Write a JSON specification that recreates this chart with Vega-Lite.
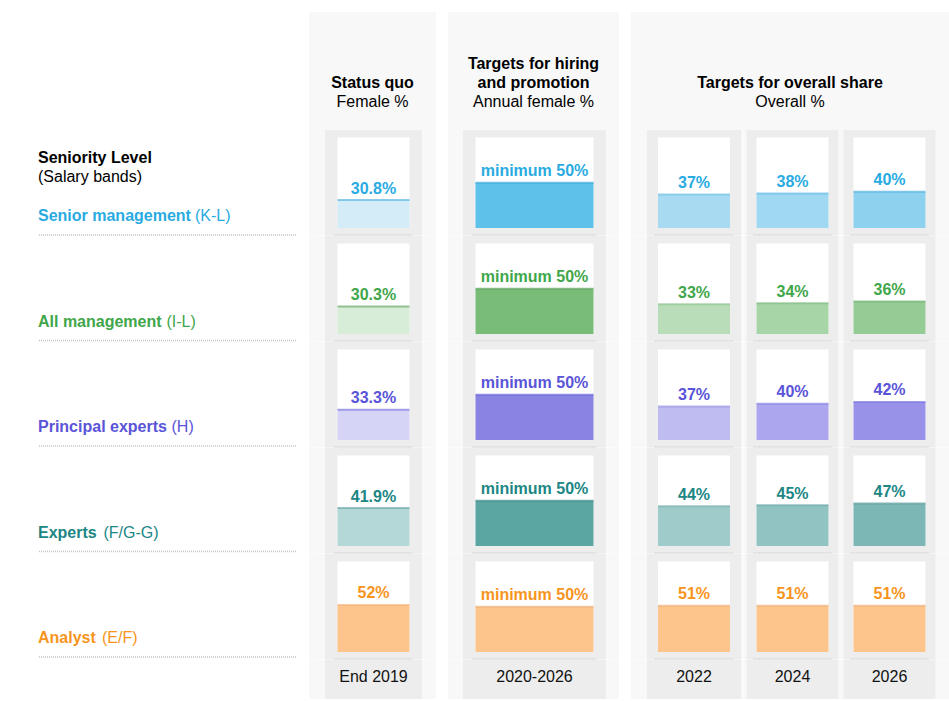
{
  "$schema": "https://vega.github.io/schema/vega-lite/v6.json",
  "padding": {"left": 37, "top": 12, "right": 0, "bottom": 0},
  "background": "#ffffff",
  "spacing": 12,
  "config": {
    "font": "Liberation Sans",
    "view": {"stroke": null, "fill": "#f8f8f8"},
    "title": {"fontSize": 16, "fontWeight": "bold", "color": "#000000", "subtitleFontSize": 16, "subtitleColor": "#000000", "subtitleFontWeight": "normal", "subtitlePadding": 3, "lineHeight": 19}
  },
  "datasets": {
    "headers": [
      {"panel": "Status quo", "kind": "title", "text": "Status quo"},
      {"panel": "Status quo", "kind": "subtitle", "text": "Female %"},
      {"panel": "Hiring", "kind": "title-top", "text": "Targets for hiring"},
      {"panel": "Hiring", "kind": "title", "text": "and promotion"},
      {"panel": "Hiring", "kind": "subtitle", "text": "Annual female %"},
      {"panel": "Overall", "kind": "title", "text": "Targets for overall share"},
      {"panel": "Overall", "kind": "subtitle", "text": "Overall %"}
    ],
    "levels": [
      {"level": "Senior management", "code": "(K-L)"},
      {"level": "All management", "code": "(I-L)"},
      {"level": "Principal experts", "code": "(H)"},
      {"level": "Experts", "code": "(F/G-G)"},
      {"level": "Analyst", "code": "(E/F)"}
    ],
    "cells": [
      {"level": "Senior management", "period": "End 2019", "value": 30.8, "label": "30.8%"},
      {"level": "Senior management", "period": "2020-2026", "value": 50, "label": "minimum 50%"},
      {"level": "Senior management", "period": "2022", "value": 37, "label": "37%"},
      {"level": "Senior management", "period": "2024", "value": 38, "label": "38%"},
      {"level": "Senior management", "period": "2026", "value": 40, "label": "40%"},
      {"level": "All management", "period": "End 2019", "value": 30.3, "label": "30.3%"},
      {"level": "All management", "period": "2020-2026", "value": 50, "label": "minimum 50%"},
      {"level": "All management", "period": "2022", "value": 33, "label": "33%"},
      {"level": "All management", "period": "2024", "value": 34, "label": "34%"},
      {"level": "All management", "period": "2026", "value": 36, "label": "36%"},
      {"level": "Principal experts", "period": "End 2019", "value": 33.3, "label": "33.3%"},
      {"level": "Principal experts", "period": "2020-2026", "value": 50, "label": "minimum 50%"},
      {"level": "Principal experts", "period": "2022", "value": 37, "label": "37%"},
      {"level": "Principal experts", "period": "2024", "value": 40, "label": "40%"},
      {"level": "Principal experts", "period": "2026", "value": 42, "label": "42%"},
      {"level": "Experts", "period": "End 2019", "value": 41.9, "label": "41.9%"},
      {"level": "Experts", "period": "2020-2026", "value": 50, "label": "minimum 50%"},
      {"level": "Experts", "period": "2022", "value": 44, "label": "44%"},
      {"level": "Experts", "period": "2024", "value": 45, "label": "45%"},
      {"level": "Experts", "period": "2026", "value": 47, "label": "47%"},
      {"level": "Analyst", "period": "End 2019", "value": 52, "label": "52%"},
      {"level": "Analyst", "period": "2020-2026", "value": 50, "label": "minimum 50%"},
      {"level": "Analyst", "period": "2022", "value": 51, "label": "51%"},
      {"level": "Analyst", "period": "2024", "value": 51, "label": "51%"},
      {"level": "Analyst", "period": "2026", "value": 51, "label": "51%"}
    ]
  },
  "resolve": {"scale": {"x": "independent", "y": "independent", "color": "independent"}},
  "hconcat": [
    {
      "data": {"name": "levels"},
      "title": {"text": "Seniority Level", "subtitle": "(Salary bands)", "anchor": "start", "frame": "group", "offset": -173},
      "width": 258, "height": 645.5,
      "view": {"fill": null, "stroke": null},
      "encoding": {
        "y": {"field": "level", "type": "nominal", "sort": ["Senior management", "All management", "Principal experts", "Experts", "Analyst"], "scale": {"range": [118, 645.5], "paddingInner": 0, "paddingOuter": 0}, "axis": null},
        "color": {"field": "level", "type": "nominal", "scale": {"domain": ["Senior management", "All management", "Principal experts", "Experts", "Analyst"], "range": ["#29abe2", "#3fa64a", "#5a54d8", "#208685", "#f7941d"]}, "legend": null}
      },
      "layer": [
        {"mark": {"type": "rule", "color": "#c4c4c4", "strokeDash": [1, 1], "strokeWidth": 1.5},
         "encoding": {"y": {"field": "level", "type": "nominal", "bandPosition": 0.995, "sort": ["Senior management", "All management", "Principal experts", "Experts", "Analyst"], "axis": null}, "color": {"value": "#c4c4c4"}}},
        {"mark": {"type": "text", "align": "left", "baseline": "alphabetic", "fontSize": 16, "fontWeight": "bold"},
         "encoding": {"x": {"value": 0}, "y": {"field": "level", "type": "nominal", "bandPosition": 0.8626, "sort": ["Senior management", "All management", "Principal experts", "Experts", "Analyst"], "axis": null}, "text": {"field": "level"}}},
        {"transform": [{"filter": "datum.level === 'Senior management'"}],
         "mark": {"type": "text", "align": "left", "baseline": "alphabetic", "dx": 157, "fontSize": 16},
         "encoding": {"x": {"value": 0}, "y": {"field": "level", "type": "nominal", "bandPosition": 0.8626, "sort": ["Senior management", "All management", "Principal experts", "Experts", "Analyst"], "axis": null}, "text": {"field": "code"}}},
        {"transform": [{"filter": "datum.level === 'All management'"}],
         "mark": {"type": "text", "align": "left", "baseline": "alphabetic", "dx": 128.5, "fontSize": 16},
         "encoding": {"x": {"value": 0}, "y": {"field": "level", "type": "nominal", "bandPosition": 0.8626, "sort": ["Senior management", "All management", "Principal experts", "Experts", "Analyst"], "axis": null}, "text": {"field": "code"}}},
        {"transform": [{"filter": "datum.level === 'Principal experts'"}],
         "mark": {"type": "text", "align": "left", "baseline": "alphabetic", "dx": 133.5, "fontSize": 16},
         "encoding": {"x": {"value": 0}, "y": {"field": "level", "type": "nominal", "bandPosition": 0.8626, "sort": ["Senior management", "All management", "Principal experts", "Experts", "Analyst"], "axis": null}, "text": {"field": "code"}}},
        {"transform": [{"filter": "datum.level === 'Experts'"}],
         "mark": {"type": "text", "align": "left", "baseline": "alphabetic", "dx": 65.5, "fontSize": 16},
         "encoding": {"x": {"value": 0}, "y": {"field": "level", "type": "nominal", "bandPosition": 0.8626, "sort": ["Senior management", "All management", "Principal experts", "Experts", "Analyst"], "axis": null}, "text": {"field": "code"}}},
        {"transform": [{"filter": "datum.level === 'Analyst'"}],
         "mark": {"type": "text", "align": "left", "baseline": "alphabetic", "dx": 64, "fontSize": 16},
         "encoding": {"x": {"value": 0}, "y": {"field": "level", "type": "nominal", "bandPosition": 0.8626, "sort": ["Senior management", "All management", "Principal experts", "Experts", "Analyst"], "axis": null}, "text": {"field": "code"}}}
      ]
    },
    {
      "spacing": 0,
      "resolve": {"scale": {"x": "independent", "y": "independent", "color": "independent"}},
      "vconcat": [
        {
          "data": {"name": "headers"},
          "transform": [{"filter": "datum.panel === 'Status quo'"}],
          "width": 127, "height": 118,
          "encoding": {
            "x": {"field": "panel", "type": "nominal", "axis": null},
            "y": {"field": "kind", "type": "nominal", "scale": {"type": "point", "domain": ["title-top", "title", "subtitle"], "range": [56.8, 94.6], "padding": 0}, "axis": null},
            "text": {"field": "text"}
          },
          "layer": [
            {"transform": [{"filter": "datum.kind !== 'subtitle'"}], "mark": {"type": "text", "fontSize": 16, "fontWeight": "bold", "baseline": "alphabetic", "color": "#000000"}},
            {"transform": [{"filter": "datum.kind === 'subtitle'"}], "mark": {"type": "text", "fontSize": 16, "baseline": "alphabetic", "color": "#000000"}}
          ]
        },
        {
          "data": {"name": "cells"},
          "transform": [{"filter": "datum.period === 'End 2019'"}],
          "facet": {"row": {"field": "level", "type": "nominal", "sort": ["Senior management", "All management", "Principal experts", "Experts", "Analyst"], "header": {"labels": false, "title": null}}},
          "spacing": 0,
          "spec": {
            "width": 127, "height": 105.5,
            "encoding": {
              "x": {"field": "period", "type": "nominal", "scale": {"range": [16, 113], "paddingInner": 0, "paddingOuter": 0}, "axis": null}
            },
            "layer": [
              {"mark": {"type": "bar", "color": "#ededed"},
               "encoding": {"y": {"datum": -8.3, "scale": {"domain": [-8.3, 108.3], "nice": false, "zero": false}, "axis": null}, "y2": {"datum": 108.3}}},
              {"mark": {"type": "bar", "color": "#ffffff", "width": 72},
               "encoding": {"y": {"datum": 100, "scale": {"domain": [-8.3, 108.3], "nice": false, "zero": false}, "axis": null}, "y2": {"datum": 0}}},
              {"mark": {"type": "tick", "thickness": 0, "size": 78.5, "filled": false, "color": "#c4c4c4", "strokeDash": [1, 1], "strokeWidth": 1.5},
               "encoding": {"y": {"datum": -7.7, "scale": {"domain": [-8.3, 108.3], "nice": false, "zero": false}, "axis": null}}},
              {"mark": {"type": "bar", "width": 72},
               "encoding": {"y": {"field": "value", "type": "quantitative", "scale": {"domain": [-8.3, 108.3], "nice": false, "zero": false}, "axis": null}, "y2": {"datum": 0},
                 "color": {"field": "level", "type": "nominal", "scale": {"domain": ["Senior management", "All management", "Principal experts", "Experts", "Analyst"], "range": ["#d3ecf8", "#d7edd7", "#d6d4f6", "#b4d7d7", "#fdc58b"]}, "legend": null}}},
              {"mark": {"type": "tick", "thickness": 2, "size": 72},
               "encoding": {"y": {"field": "value", "type": "quantitative", "scale": {"domain": [-8.3, 108.3], "nice": false, "zero": false}, "axis": null},
                 "color": {"field": "level", "type": "nominal", "scale": {"domain": ["Senior management", "All management", "Principal experts", "Experts", "Analyst"], "range": ["#5cb6e0", "#6cad6d", "#7f78e0", "#6eaaa9", "#f3b47c"]}, "legend": null}}},
              {"mark": {"type": "text", "align": "center", "baseline": "alphabetic", "dy": -6.5, "fontSize": 16, "fontWeight": "bold"},
               "encoding": {"y": {"field": "value", "type": "quantitative", "scale": {"domain": [-8.3, 108.3], "nice": false, "zero": false}, "axis": null}, "text": {"field": "label"},
                 "color": {"field": "level", "type": "nominal", "scale": {"domain": ["Senior management", "All management", "Principal experts", "Experts", "Analyst"], "range": ["#29abe2", "#3fa64a", "#5a54d8", "#208685", "#f7941d"]}, "legend": null}}}
            ],
            "resolve": {"scale": {"color": "independent"}}
          }
        },
        {
          "data": {"name": "cells"},
          "transform": [{"filter": "datum.period === 'End 2019'"}, {"aggregate": [{"op": "count", "as": "n"}], "groupby": ["period"]}],
          "width": 127, "height": 39,
          "encoding": {"x": {"field": "period", "type": "nominal", "scale": {"range": [16, 113], "paddingInner": 0, "paddingOuter": 0}, "axis": null}},
          "layer": [
            {"mark": {"type": "bar", "color": "#ededed"}},
            {"mark": {"type": "text", "fontSize": 16, "color": "#111111", "baseline": "middle", "dy": -3}, "encoding": {"text": {"field": "period"}}}
          ]
        }
      ]
    },
    {
      "spacing": 0,
      "resolve": {"scale": {"x": "independent", "y": "independent", "color": "independent"}},
      "vconcat": [
        {
          "data": {"name": "headers"},
          "transform": [{"filter": "datum.panel === 'Hiring'"}],
          "width": 171, "height": 118,
          "encoding": {
            "x": {"field": "panel", "type": "nominal", "axis": null},
            "y": {"field": "kind", "type": "nominal", "scale": {"type": "point", "domain": ["title-top", "title", "subtitle"], "range": [56.8, 94.6], "padding": 0}, "axis": null},
            "text": {"field": "text"}
          },
          "layer": [
            {"transform": [{"filter": "datum.kind !== 'subtitle'"}], "mark": {"type": "text", "fontSize": 16, "fontWeight": "bold", "baseline": "alphabetic", "color": "#000000"}},
            {"transform": [{"filter": "datum.kind === 'subtitle'"}], "mark": {"type": "text", "fontSize": 16, "baseline": "alphabetic", "color": "#000000"}}
          ]
        },
        {
          "data": {"name": "cells"},
          "transform": [{"filter": "datum.period === '2020-2026'"}],
          "facet": {"row": {"field": "level", "type": "nominal", "sort": ["Senior management", "All management", "Principal experts", "Experts", "Analyst"], "header": {"labels": false, "title": null}}},
          "spacing": 0,
          "spec": {
            "width": 171, "height": 105.5,
            "encoding": {
              "x": {"field": "period", "type": "nominal", "scale": {"range": [15, 158], "paddingInner": 0, "paddingOuter": 0}, "axis": null}
            },
            "layer": [
              {"mark": {"type": "bar", "color": "#ededed"},
               "encoding": {"y": {"datum": -8.3, "scale": {"domain": [-8.3, 108.3], "nice": false, "zero": false}, "axis": null}, "y2": {"datum": 108.3}}},
              {"mark": {"type": "bar", "color": "#ffffff", "width": 118},
               "encoding": {"y": {"datum": 100, "scale": {"domain": [-8.3, 108.3], "nice": false, "zero": false}, "axis": null}, "y2": {"datum": 0}}},
              {"mark": {"type": "tick", "thickness": 0, "size": 124.5, "filled": false, "color": "#c4c4c4", "strokeDash": [1, 1], "strokeWidth": 1.5},
               "encoding": {"y": {"datum": -7.7, "scale": {"domain": [-8.3, 108.3], "nice": false, "zero": false}, "axis": null}}},
              {"mark": {"type": "bar", "width": 118},
               "encoding": {"y": {"field": "value", "type": "quantitative", "scale": {"domain": [-8.3, 108.3], "nice": false, "zero": false}, "axis": null}, "y2": {"datum": 0},
                 "color": {"field": "level", "type": "nominal", "scale": {"domain": ["Senior management", "All management", "Principal experts", "Experts", "Analyst"], "range": ["#5dc1ea", "#78bc78", "#8983e4", "#5ba5a3", "#fdc58b"]}, "legend": null}}},
              {"mark": {"type": "tick", "thickness": 2, "size": 118},
               "encoding": {"y": {"field": "value", "type": "quantitative", "scale": {"domain": [-8.3, 108.3], "nice": false, "zero": false}, "axis": null},
                 "color": {"field": "level", "type": "nominal", "scale": {"domain": ["Senior management", "All management", "Principal experts", "Experts", "Analyst"], "range": ["#40a9d8", "#5ea45f", "#6f69d8", "#418f8d", "#f0b27c"]}, "legend": null}}},
              {"mark": {"type": "text", "align": "center", "baseline": "alphabetic", "dy": -6.5, "fontSize": 16, "fontWeight": "bold"},
               "encoding": {"y": {"field": "value", "type": "quantitative", "scale": {"domain": [-8.3, 108.3], "nice": false, "zero": false}, "axis": null}, "text": {"field": "label"},
                 "color": {"field": "level", "type": "nominal", "scale": {"domain": ["Senior management", "All management", "Principal experts", "Experts", "Analyst"], "range": ["#29abe2", "#3fa64a", "#5a54d8", "#208685", "#f7941d"]}, "legend": null}}}
            ],
            "resolve": {"scale": {"color": "independent"}}
          }
        },
        {
          "data": {"name": "cells"},
          "transform": [{"filter": "datum.period === '2020-2026'"}, {"aggregate": [{"op": "count", "as": "n"}], "groupby": ["period"]}],
          "width": 171, "height": 39,
          "encoding": {"x": {"field": "period", "type": "nominal", "scale": {"range": [15, 158], "paddingInner": 0, "paddingOuter": 0}, "axis": null}},
          "layer": [
            {"mark": {"type": "bar", "color": "#ededed"}},
            {"mark": {"type": "text", "fontSize": 16, "color": "#111111", "baseline": "middle", "dy": -3}, "encoding": {"text": {"field": "period"}}}
          ]
        }
      ]
    },
    {
      "spacing": 0,
      "resolve": {"scale": {"x": "independent", "y": "independent", "color": "independent"}},
      "vconcat": [
        {
          "data": {"name": "headers"},
          "transform": [{"filter": "datum.panel === 'Overall'"}],
          "width": 318, "height": 118,
          "encoding": {
            "x": {"field": "panel", "type": "nominal", "axis": null},
            "y": {"field": "kind", "type": "nominal", "scale": {"type": "point", "domain": ["title-top", "title", "subtitle"], "range": [56.8, 94.6], "padding": 0}, "axis": null},
            "text": {"field": "text"}
          },
          "layer": [
            {"transform": [{"filter": "datum.kind !== 'subtitle'"}], "mark": {"type": "text", "fontSize": 16, "fontWeight": "bold", "baseline": "alphabetic", "color": "#000000"}},
            {"transform": [{"filter": "datum.kind === 'subtitle'"}], "mark": {"type": "text", "fontSize": 16, "baseline": "alphabetic", "color": "#000000"}}
          ]
        },
        {
          "spacing": 0,
          "resolve": {"scale": {"x": "independent", "y": "independent", "color": "independent"}},
          "hconcat": [
            {
              "data": {"name": "cells"},
              "transform": [{"filter": "datum.period === '2022'"}],
              "facet": {"row": {"field": "level", "type": "nominal", "sort": ["Senior management", "All management", "Principal experts", "Experts", "Analyst"], "header": {"labels": false, "title": null}}},
              "spacing": 0,
              "spec": {
                "width": 112.5, "height": 105.5,
                "encoding": {
                  "x": {"field": "period", "type": "nominal", "scale": {"range": [16, 110], "paddingInner": 0, "paddingOuter": 0}, "axis": null}
                },
                "layer": [
                  {"mark": {"type": "bar", "color": "#ededed"},
                   "encoding": {"y": {"datum": -8.3, "scale": {"domain": [-8.3, 108.3], "nice": false, "zero": false}, "axis": null}, "y2": {"datum": 108.3}}},
                  {"mark": {"type": "bar", "color": "#ffffff", "width": 72},
                   "encoding": {"y": {"datum": 100, "scale": {"domain": [-8.3, 108.3], "nice": false, "zero": false}, "axis": null}, "y2": {"datum": 0}}},
                  {"mark": {"type": "tick", "thickness": 0, "size": 78.5, "filled": false, "color": "#c4c4c4", "strokeDash": [1, 1], "strokeWidth": 1.5},
                   "encoding": {"y": {"datum": -7.7, "scale": {"domain": [-8.3, 108.3], "nice": false, "zero": false}, "axis": null}}},
                  {"mark": {"type": "bar", "width": 72},
                   "encoding": {"y": {"field": "value", "type": "quantitative", "scale": {"domain": [-8.3, 108.3], "nice": false, "zero": false}, "axis": null}, "y2": {"datum": 0},
                     "color": {"field": "level", "type": "nominal", "scale": {"domain": ["Senior management", "All management", "Principal experts", "Experts", "Analyst"], "range": ["#a8dbf1", "#b8ddb8", "#bfbcf1", "#9fcbcb", "#fdc58b"]}, "legend": null}}},
                  {"mark": {"type": "tick", "thickness": 2, "size": 72},
                   "encoding": {"y": {"field": "value", "type": "quantitative", "scale": {"domain": [-8.3, 108.3], "nice": false, "zero": false}, "axis": null},
                     "color": {"field": "level", "type": "nominal", "scale": {"domain": ["Senior management", "All management", "Principal experts", "Experts", "Analyst"], "range": ["#6fc0e5", "#8fc48f", "#9a95e6", "#78b2b2", "#f0b27c"]}, "legend": null}}},
                  {"mark": {"type": "text", "align": "center", "baseline": "alphabetic", "dy": -6.5, "fontSize": 16, "fontWeight": "bold"},
                   "encoding": {"y": {"field": "value", "type": "quantitative", "scale": {"domain": [-8.3, 108.3], "nice": false, "zero": false}, "axis": null}, "text": {"field": "label"},
                     "color": {"field": "level", "type": "nominal", "scale": {"domain": ["Senior management", "All management", "Principal experts", "Experts", "Analyst"], "range": ["#29abe2", "#3fa64a", "#5a54d8", "#208685", "#f7941d"]}, "legend": null}}}
                ],
                "resolve": {"scale": {"color": "independent"}}
              }
            },
            {
              "data": {"name": "cells"},
              "transform": [{"filter": "datum.period === '2024'"}],
              "facet": {"row": {"field": "level", "type": "nominal", "sort": ["Senior management", "All management", "Principal experts", "Experts", "Analyst"], "header": {"labels": false, "title": null}}},
              "spacing": 0,
              "spec": {
                "width": 97, "height": 105.5,
                "encoding": {
                  "x": {"field": "period", "type": "nominal", "scale": {"range": [2.5, 94.5], "paddingInner": 0, "paddingOuter": 0}, "axis": null}
                },
                "layer": [
                  {"mark": {"type": "bar", "color": "#ededed"},
                   "encoding": {"y": {"datum": -8.3, "scale": {"domain": [-8.3, 108.3], "nice": false, "zero": false}, "axis": null}, "y2": {"datum": 108.3}}},
                  {"mark": {"type": "bar", "color": "#ffffff", "width": 72},
                   "encoding": {"y": {"datum": 100, "scale": {"domain": [-8.3, 108.3], "nice": false, "zero": false}, "axis": null}, "y2": {"datum": 0}}},
                  {"mark": {"type": "tick", "thickness": 0, "size": 78.5, "filled": false, "color": "#c4c4c4", "strokeDash": [1, 1], "strokeWidth": 1.5},
                   "encoding": {"y": {"datum": -7.7, "scale": {"domain": [-8.3, 108.3], "nice": false, "zero": false}, "axis": null}}},
                  {"mark": {"type": "bar", "width": 72},
                   "encoding": {"y": {"field": "value", "type": "quantitative", "scale": {"domain": [-8.3, 108.3], "nice": false, "zero": false}, "axis": null}, "y2": {"datum": 0},
                     "color": {"field": "level", "type": "nominal", "scale": {"domain": ["Senior management", "All management", "Principal experts", "Experts", "Analyst"], "range": ["#9fd8f0", "#a7d5a7", "#aba6ed", "#91c3c3", "#fdc58b"]}, "legend": null}}},
                  {"mark": {"type": "tick", "thickness": 2, "size": 72},
                   "encoding": {"y": {"field": "value", "type": "quantitative", "scale": {"domain": [-8.3, 108.3], "nice": false, "zero": false}, "axis": null},
                     "color": {"field": "level", "type": "nominal", "scale": {"domain": ["Senior management", "All management", "Principal experts", "Experts", "Analyst"], "range": ["#64bbe3", "#7fbb80", "#8a84e3", "#6eaaaa", "#f0b27c"]}, "legend": null}}},
                  {"mark": {"type": "text", "align": "center", "baseline": "alphabetic", "dy": -6.5, "fontSize": 16, "fontWeight": "bold"},
                   "encoding": {"y": {"field": "value", "type": "quantitative", "scale": {"domain": [-8.3, 108.3], "nice": false, "zero": false}, "axis": null}, "text": {"field": "label"},
                     "color": {"field": "level", "type": "nominal", "scale": {"domain": ["Senior management", "All management", "Principal experts", "Experts", "Analyst"], "range": ["#29abe2", "#3fa64a", "#5a54d8", "#208685", "#f7941d"]}, "legend": null}}}
                ],
                "resolve": {"scale": {"color": "independent"}}
              }
            },
            {
              "data": {"name": "cells"},
              "transform": [{"filter": "datum.period === '2026'"}],
              "facet": {"row": {"field": "level", "type": "nominal", "sort": ["Senior management", "All management", "Principal experts", "Experts", "Analyst"], "header": {"labels": false, "title": null}}},
              "spacing": 0,
              "spec": {
                "width": 108.5, "height": 105.5,
                "encoding": {
                  "x": {"field": "period", "type": "nominal", "scale": {"range": [2.5, 94.5], "paddingInner": 0, "paddingOuter": 0}, "axis": null}
                },
                "layer": [
                  {"mark": {"type": "bar", "color": "#ededed"},
                   "encoding": {"y": {"datum": -8.3, "scale": {"domain": [-8.3, 108.3], "nice": false, "zero": false}, "axis": null}, "y2": {"datum": 108.3}}},
                  {"mark": {"type": "bar", "color": "#ffffff", "width": 72},
                   "encoding": {"y": {"datum": 100, "scale": {"domain": [-8.3, 108.3], "nice": false, "zero": false}, "axis": null}, "y2": {"datum": 0}}},
                  {"mark": {"type": "tick", "thickness": 0, "size": 78.5, "filled": false, "color": "#c4c4c4", "strokeDash": [1, 1], "strokeWidth": 1.5},
                   "encoding": {"y": {"datum": -7.7, "scale": {"domain": [-8.3, 108.3], "nice": false, "zero": false}, "axis": null}}},
                  {"mark": {"type": "bar", "width": 72},
                   "encoding": {"y": {"field": "value", "type": "quantitative", "scale": {"domain": [-8.3, 108.3], "nice": false, "zero": false}, "axis": null}, "y2": {"datum": 0},
                     "color": {"field": "level", "type": "nominal", "scale": {"domain": ["Senior management", "All management", "Principal experts", "Experts", "Analyst"], "range": ["#8dd1ee", "#95cb95", "#9893e9", "#7cb7b6", "#fdc58b"]}, "legend": null}}},
                  {"mark": {"type": "tick", "thickness": 2, "size": 72},
                   "encoding": {"y": {"field": "value", "type": "quantitative", "scale": {"domain": [-8.3, 108.3], "nice": false, "zero": false}, "axis": null},
                     "color": {"field": "level", "type": "nominal", "scale": {"domain": ["Senior management", "All management", "Principal experts", "Experts", "Analyst"], "range": ["#55b4df", "#6fb170", "#7c76df", "#5f9f9e", "#f0b27c"]}, "legend": null}}},
                  {"mark": {"type": "text", "align": "center", "baseline": "alphabetic", "dy": -6.5, "fontSize": 16, "fontWeight": "bold"},
                   "encoding": {"y": {"field": "value", "type": "quantitative", "scale": {"domain": [-8.3, 108.3], "nice": false, "zero": false}, "axis": null}, "text": {"field": "label"},
                     "color": {"field": "level", "type": "nominal", "scale": {"domain": ["Senior management", "All management", "Principal experts", "Experts", "Analyst"], "range": ["#29abe2", "#3fa64a", "#5a54d8", "#208685", "#f7941d"]}, "legend": null}}}
                ],
                "resolve": {"scale": {"color": "independent"}}
              }
            }
          ]
        },
        {
          "spacing": 0,
          "resolve": {"scale": {"x": "independent", "y": "independent", "color": "independent"}},
          "hconcat": [
            {
              "data": {"name": "cells"},
              "transform": [{"filter": "datum.period === '2022'"}, {"aggregate": [{"op": "count", "as": "n"}], "groupby": ["period"]}],
              "width": 112.5, "height": 39,
              "encoding": {"x": {"field": "period", "type": "nominal", "scale": {"range": [16, 110], "paddingInner": 0, "paddingOuter": 0}, "axis": null}},
              "layer": [
                {"mark": {"type": "bar", "color": "#ededed"}},
                {"mark": {"type": "text", "fontSize": 16, "color": "#111111", "baseline": "middle", "dy": -3}, "encoding": {"text": {"field": "period"}}}
              ]
            },
            {
              "data": {"name": "cells"},
              "transform": [{"filter": "datum.period === '2024'"}, {"aggregate": [{"op": "count", "as": "n"}], "groupby": ["period"]}],
              "width": 97, "height": 39,
              "encoding": {"x": {"field": "period", "type": "nominal", "scale": {"range": [2.5, 94.5], "paddingInner": 0, "paddingOuter": 0}, "axis": null}},
              "layer": [
                {"mark": {"type": "bar", "color": "#ededed"}},
                {"mark": {"type": "text", "fontSize": 16, "color": "#111111", "baseline": "middle", "dy": -3}, "encoding": {"text": {"field": "period"}}}
              ]
            },
            {
              "data": {"name": "cells"},
              "transform": [{"filter": "datum.period === '2026'"}, {"aggregate": [{"op": "count", "as": "n"}], "groupby": ["period"]}],
              "width": 108.5, "height": 39,
              "encoding": {"x": {"field": "period", "type": "nominal", "scale": {"range": [2.5, 94.5], "paddingInner": 0, "paddingOuter": 0}, "axis": null}},
              "layer": [
                {"mark": {"type": "bar", "color": "#ededed"}},
                {"mark": {"type": "text", "fontSize": 16, "color": "#111111", "baseline": "middle", "dy": -3}, "encoding": {"text": {"field": "period"}}}
              ]
            }
          ]
        }
      ]
    }
  ]
}
